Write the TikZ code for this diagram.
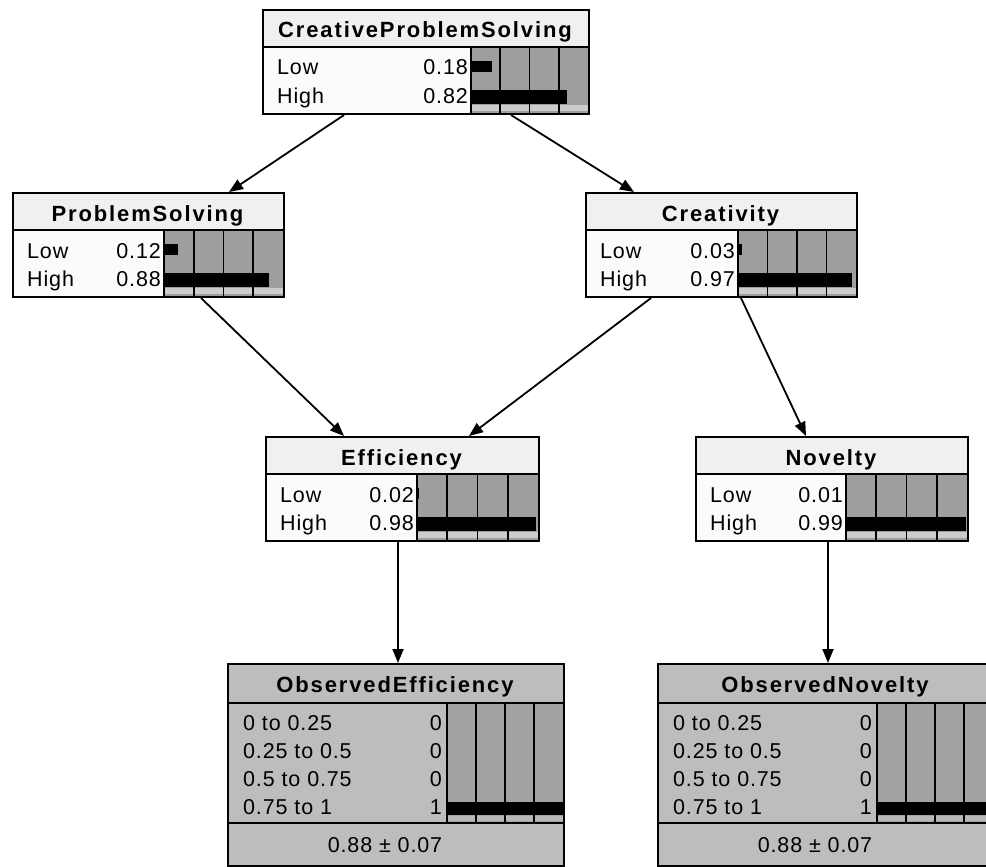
\documentclass[tikz,border=0pt]{standalone}
\usepackage{fontspec}
\setmainfont{Liberation Sans}
\newfontfamily\labelfont{Liberation Sans}[LetterSpace=4]
\newfontfamily\headfont{Liberation Sans}[LetterSpace=8.5]
\usetikzlibrary{arrows.meta}

\definecolor{headfill}{gray}{0.94}
\definecolor{datafill}{gray}{0.985}
\definecolor{barfill}{gray}{0.62}
\definecolor{stripfill}{gray}{0.80}
\definecolor{obsfill}{gray}{0.74}
\definecolor{obsbar}{gray}{0.64}

\tikzset{
  frame/.style={draw=black, line width=2pt, rectangle, inner sep=0pt, anchor=north west},
  rule/.style={line width=1.8pt},
  gridline/.style={line width=1.8pt},
  headtext/.style={font=\headfont\bfseries\fontsize{22}{26}\selectfont, inner sep=0pt, anchor=base},
  celltext/.style={font=\labelfont\fontsize{21.5}{26}\selectfont, inner sep=0pt},
  conn/.style={line width=1.8pt, -{Triangle[length=14pt,width=11pt]}},
}

% Two-state belief node: name, left, top, width, bar width, title, P(Low), P(High)
\newcommand\twostatenode[8]{%
\begin{scope}[shift={(#2,#3)}]
  \fill[headfill] (0,0) rectangle (#4,38);
  \fill[datafill] (0,38) rectangle (#4-#5,104);
  \fill[barfill] (#4-#5,38) rectangle (#4,104);
  \fill[stripfill] (#4-#5,96) rectangle (#4,102);
  \fill[black] (#4-#5,52) rectangle ++(#7*#5,11);
  \fill[black] (#4-#5,81) rectangle ++(#8*#5,14);
  \foreach \k in {1,2,3}
    \draw[gridline] (#4-#5+\k*#5/4,38) -- (#4-#5+\k*#5/4,104);
  \draw[rule] (0,38) -- (#4,38);
  \draw[rule] (#4-#5,38) -- (#4-#5,104);
  \node[headtext] (#1-title) at (#4/2,29) {#6};
  \node[celltext, anchor=base west] (#1-lowlabel) at (15,66) {Low};
  \node[celltext, anchor=base west] (#1-highlabel) at (15,94) {High};
  \node[celltext, anchor=base east] (#1-lowvalue) at (#4-#5-3,66) {#7};
  \node[celltext, anchor=base east] (#1-highvalue) at (#4-#5-3,94) {#8};
  \node[frame, minimum width=#4pt, minimum height=104pt] (#1) at (0,0) {};
\end{scope}}

% Observed (discretised) node with four intervals and a mean line: name, left, top, title, mean
\newcommand\observednode[5]{%
\begin{scope}[shift={(#2,#3)}]
  \fill[obsfill] (0,0) rectangle (336,202);
  \fill[obsbar] (220,40) rectangle (336,160);
  \fill[stripfill!90!black] (220,153) rectangle (336,158);
  \fill[black] (220,139) rectangle (336,152);
  \foreach \k in {1,2,3}
    \draw[gridline] (220+\k*29,40) -- (220+\k*29,160);
  \draw[rule] (0,40) -- (336,40);
  \draw[rule] (0,160) -- (336,160);
  \draw[rule] (220,40) -- (220,160);
  \node[headtext] (#1-title) at (168,29) {#4};
  \node[celltext, anchor=base west] (#1-r1) at (16,67) {0 to 0.25};
  \node[celltext, anchor=base west] (#1-r2) at (16,95) {0.25 to 0.5};
  \node[celltext, anchor=base west] (#1-r3) at (16,123) {0.5 to 0.75};
  \node[celltext, anchor=base west] (#1-r4) at (16,151) {0.75 to 1};
  \node[celltext, anchor=base east] (#1-v1) at (215,67) {0};
  \node[celltext, anchor=base east] (#1-v2) at (215,95) {0};
  \node[celltext, anchor=base east] (#1-v3) at (215,123) {0};
  \node[celltext, anchor=base east] (#1-v4) at (215,151) {1};
  \node[celltext, anchor=base] (#1-mean) at (158,189) {#5};
  \node[frame, minimum width=336pt, minimum height=202pt] (#1) at (0,0) {};
\end{scope}}

\begin{document}
\begin{tikzpicture}[x=1pt, y=-1pt]
  \useasboundingbox (0,0) rectangle (986,867);
  \clip (0,0) rectangle (986,867);
  \fill[white] (0,0) rectangle (986,867);

  \twostatenode{cps}{262}{9}{326}{117}{CreativeProblemSolving}{0.18}{0.82}
  \twostatenode{ps}{12}{192}{271}{119}{ProblemSolving}{0.12}{0.88}
  \twostatenode{cre}{585}{192}{271}{118}{Creativity}{0.03}{0.97}
  \twostatenode{eff}{265}{436}{273}{121}{Efficiency}{0.02}{0.98}
  \twostatenode{nov}{695}{436}{272}{121}{Novelty}{0.01}{0.99}
  \observednode{oeff}{227}{663}{ObservedEfficiency}{0.88 ± 0.07}
  \observednode{onov}{657}{663}{ObservedNovelty}{0.88 ± 0.07}

  \draw[conn] ([xshift=-82pt]cps.south) -- ([xshift=80.5pt]ps.north);
  \draw[conn] ([xshift=85pt]cps.south) -- ([xshift=-87.5pt]cre.north);
  \draw[conn] ([xshift=52.5pt]ps.south) -- ([xshift=-58.5pt]eff.north);
  \draw[conn] ([xshift=-70.5pt]cre.south) -- ([xshift=66.5pt]eff.north);
  \draw[conn] ([xshift=19.5pt]cre.south) -- ([xshift=-26pt]nov.north);
  \draw[conn] ([xshift=-4.5pt]eff.south) -- ([xshift=2pt]oeff.north);
  \draw[conn] ([xshift=-4pt]nov.south) -- ([xshift=2pt]onov.north);
\end{tikzpicture}
\end{document}
